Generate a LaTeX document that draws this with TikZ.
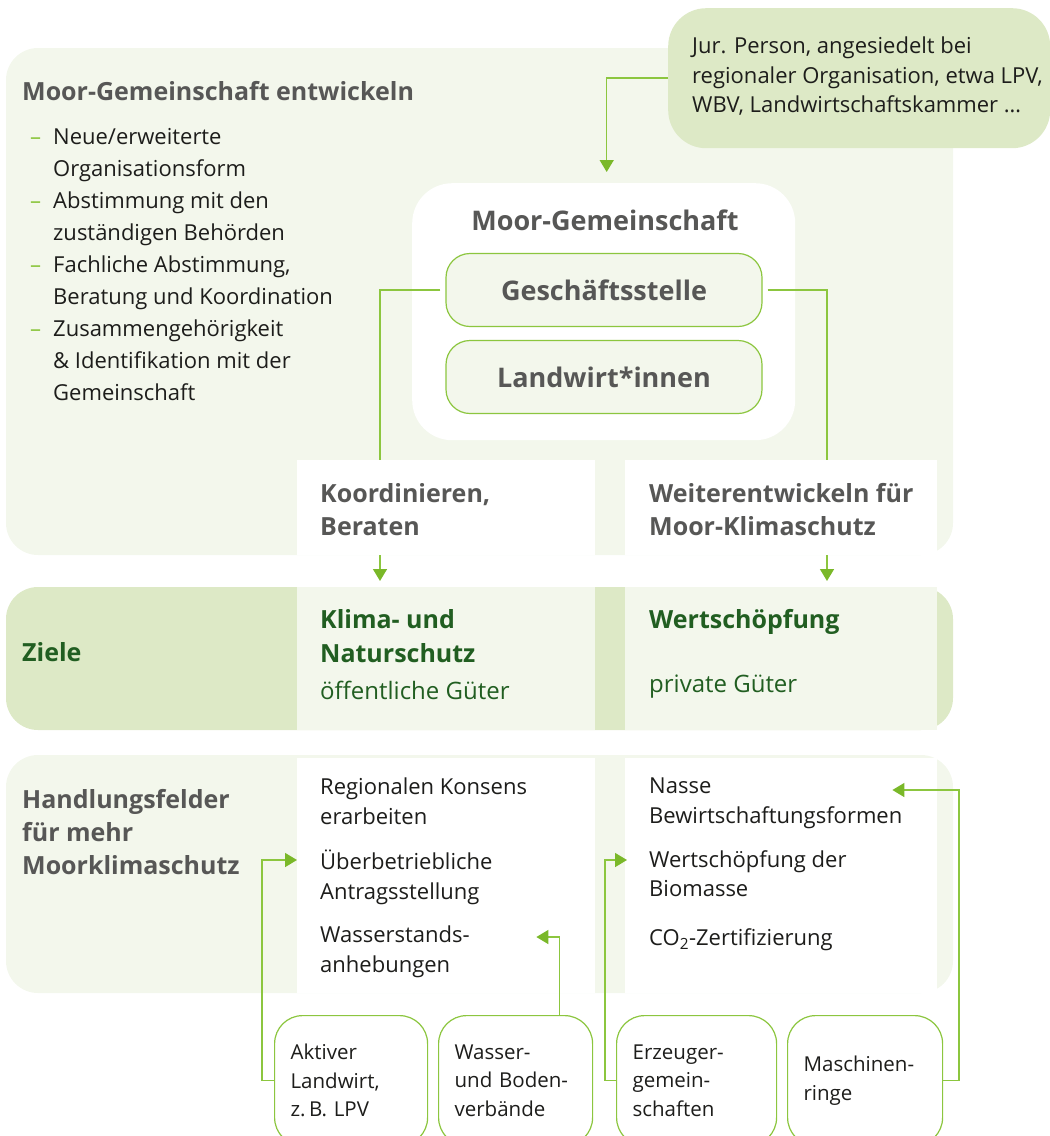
\documentclass[tikz,border=0pt]{standalone}
\usepackage{fontspec}
\setmainfont{Open Sans}
\usetikzlibrary{arrows.meta}

\definecolor{bgLight}{HTML}{F3F7EC}
\definecolor{bgMid}{HTML}{DDE9C6}
\definecolor{txtGrey}{HTML}{575756}
\definecolor{txtDark}{HTML}{1D1D1B}
\definecolor{zielGreen}{HTML}{215E21}
\definecolor{lineGreen}{HTML}{8CC63F}
\definecolor{tipGreen}{HTML}{7AB829}

\newcommand{\gdash}{\llap{\textcolor{lineGreen}{–}\hskip12pt}}

\begin{document}
\begin{tikzpicture}[x=1pt, y=-1pt,
    panel/.style={rectangle, inner sep=0pt, anchor=north west},
    body/.style={font=\fontsize{22}{29.5}\selectfont, text=txtDark, align=left, inner sep=0pt, anchor=north west},
    bullet/.style={body, font=\fontsize{22}{32}\selectfont},
    head/.style={font=\fontsize{25}{33}\selectfont\bfseries, text=txtGrey, align=left, inner sep=0pt, anchor=north west},
    goal/.style={head, text=zielGreen},
    unit/.style={rectangle, rounded corners=24pt, draw=lineGreen, line width=1.2pt, fill=bgLight, minimum width=316pt, minimum height=73pt, font=\fontsize{27}{30}\selectfont\bfseries, text=txtGrey},
    actor/.style={rectangle, rounded corners=28pt, draw=lineGreen, line width=1.2pt, fill=white, minimum height=130pt, inner xsep=16pt, align=left, anchor=north west, font=\fontsize{20.5}{28.5}\selectfont, text=txtDark},
    link/.style={draw=lineGreen, line width=1.5pt},
    arrow/.style={link, -{Triangle[length=12pt, width=14pt, color=tipGreen]}}
  ]
    \useasboundingbox (0,0) rectangle (1050,1136);
    \clip (0,0) rectangle (1050,1136);

    % Moor-Gemeinschaft entwickeln
    \fill[bgLight, rounded corners=32pt] (6,48) rectangle (953,555);
    \node (jur) [panel, fill=bgMid, rounded corners=38pt, minimum width=382pt, minimum height=140pt] at (668,8) {};
    \node (jurtxt) [body] at (692,37) {Jur. Person, angesiedelt bei\\regionaler Organisation, etwa LPV,\\WBV, Landwirtschaftskammer …};

    \node (t_title) [head] at (22,81) {Moor-Gemeinschaft entwickeln};
    \node (b_neu) [bullet] at (53,128) {\gdash Neue/erweiterte\\Organisationsform};
    \node (b_abst) [bullet] at (53,192) {\gdash Abstimmung mit den\\zuständigen Behörden};
    \node (b_fach) [bullet] at (53,256) {\gdash Fachliche Abstimmung,\\Beratung und Koordination};
    \node (b_zus) [bullet] at (53,320) {\gdash Zusammengehörigkeit\\\& Identifikation mit der\\Gemeinschaft};

    \node (mg) [panel, fill=white, rounded corners=40pt, minimum width=383pt, minimum height=257pt] at (412,183) {};
    \node (mgtitle) [head, anchor=center, font=\fontsize{27}{30}\selectfont\bfseries] at (605,220) {Moor-Gemeinschaft};
    \node (ges) [unit] at (604,290) {Geschäftsstelle};
    \node (lw) [unit] at (604,377) {Landwirt*innen};

    \node (koord) [panel, fill=white, minimum width=298pt, minimum height=95pt] at (297,460) {};
    \node (koordtxt) [head] at (320,483) {Koordinieren,\\Beraten};
    \node (weiter) [panel, fill=white, minimum width=312pt, minimum height=95pt] at (625,460) {};
    \node (weitertxt) [head] at (649,483) {Weiterentwickeln für\\Moor-Klimaschutz};

    % Ziele
    \fill[bgMid, rounded corners=32pt] (6,587) rectangle (953,730);
    \node (klima) [panel, fill=bgLight, minimum width=298pt, minimum height=143pt] at (297,587) {};
    \node (wert) [panel, fill=bgLight, minimum width=312pt, minimum height=143pt] at (625,587) {};
    \node (z_title) [goal, anchor=west] at (22,652) {Ziele};
    \node (z_klima) [goal, font=\fontsize{25}{34}\selectfont\bfseries] at (320,609) {Klima- und\\Naturschutz};
    \node (z_oeff) [body, text=zielGreen, font=\fontsize{24}{30}\selectfont] at (320,681) {öffentliche Güter};
    \node (z_wert) [goal] at (649,609) {Wertschöpfung};
    \node (z_priv) [body, text=zielGreen, font=\fontsize{24}{30}\selectfont] at (649,675) {private Güter};

    % Handlungsfelder
    \fill[bgLight, rounded corners=32pt] (6,755) rectangle (953,993);
    \node (col1) [panel, fill=white, minimum width=298pt, minimum height=235pt] at (297,758) {};
    \node (col2) [panel, fill=white, minimum width=312pt, minimum height=235pt] at (625,758) {};
    \node (h_title) [head] at (22,789) {Handlungsfelder\\für mehr\\Moorklimaschutz};
    \node (h_konsens) [body] at (320,778) {Regionalen Konsens\\erarbeiten};
    \node (h_antrag) [body] at (320,850) {Überbetriebliche\\Antragsstellung};
    \node (h_wasser) [body] at (320,926) {Wasserstands-\\anhebungen};
    \node (h_nass) [body] at (649,778) {Nasse\\Bewirtschaftungsformen};
    \node (h_biomasse) [body] at (649,850) {Wertschöpfung der\\Biomasse};
    \node (h_co2) [body] at (649,928) {CO\textsubscript{2}-Zertifizierung};

    % Akteure
    \node (a_aktiv) [actor, text width=121pt] at (274,1015) {Aktiver\\Landwirt,\\z.\,B. LPV};
    \node (a_wasser) [actor, text width=122pt] at (438,1015) {Wasser-\\und Boden-\\verbände};
    \node (a_erzeug) [actor, text width=128pt] at (616,1015) {Erzeuger-\\gemein-\\schaften};
    \node (a_masch) [actor, text width=123pt] at (787,1015) {Maschinen-\\ringe};

    % Connectors
    \draw[arrow] (jur.west) -| ([shift={(3,-11)}]mg.north);
    \draw[link] ([xshift=-5pt]ges.west) -| ([xshift=83pt]koord.north west);
    \draw[arrow] ([xshift=83pt]koord.south west) -- ([shift={(83,-6)}]klima.north west);
    \draw[link] ([xshift=5pt]ges.east) -| ([xshift=202pt]weiter.north west);
    \draw[arrow] ([xshift=202pt]weiter.south west) -- ([shift={(202,-6)}]wert.north west);

    \draw[arrow] (a_aktiv.west) -- ++(-12,0) |- ([shift={(0,102)}]col1.north west);
    \draw[arrow] ([xshift=44pt]a_wasser.north) |- ([shift={(-59,179)}]col1.north east);
    \draw[arrow] (a_erzeug.west) -- ++(-11,0) |- ([shift={(2,102)}]col2.north west);
    \draw[arrow] (a_masch.east) -- ++(16,0) |- ([shift={(-45,32)}]col2.north east);
\end{tikzpicture}
\end{document}
